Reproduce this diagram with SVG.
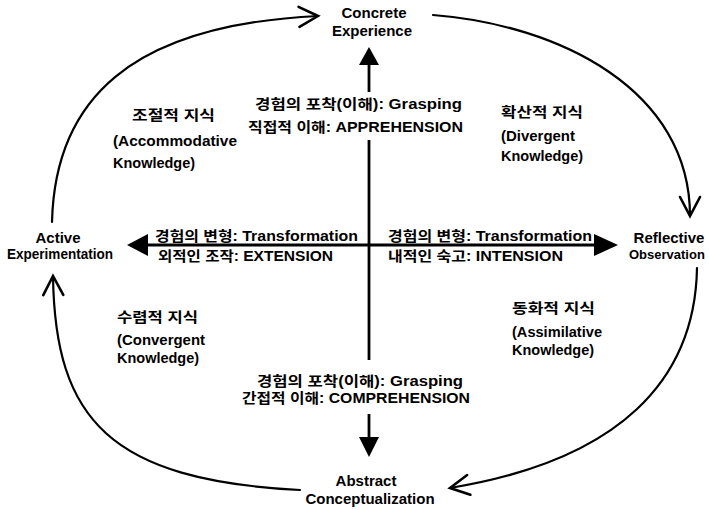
<svg xmlns="http://www.w3.org/2000/svg" width="709" height="510" viewBox="0 0 709 510">
  <style>
    text { font-family: "Liberation Sans", "Noto Sans CJK KR", sans-serif; font-size: 14px; font-weight: bold; fill: #000; }
    .stage { font-size: 15px; }
    .tight { font-size: 13px; }
    .kind { font-size: 15px; }
    .mid { text-anchor: middle; }
    .arc { fill: none; stroke: #000; stroke-width: 2.2; stroke-linecap: round; }
    .axis { fill: none; stroke: #000; stroke-width: 2.8; }
    .head { fill: #000; stroke: none; }
  </style>
  <defs>
    <marker id="openV" viewBox="0 0 24 24" refX="21" refY="12" markerWidth="24" markerHeight="24" markerUnits="userSpaceOnUse" orient="auto">
      <path d="M2,2 L21,12 L2,22" fill="none" stroke="#000" stroke-width="2.6" stroke-linecap="round" stroke-linejoin="miter"/>
    </marker>
  </defs>

  <rect width="709" height="510" fill="#fff"/>

  <!-- connectors: learning cycle arcs and the two axes -->
  <g id="connectors">
    <path class="arc" d="M52,222 C55,100 130,25 318,16" marker-end="url(#openV)"/>
    <path class="arc" d="M433,15 C560,25 690,90 690,216" marker-end="url(#openV)"/>
    <path class="arc" d="M697,268 C695,380 620,460 450,488" marker-end="url(#openV)"/>
    <path class="arc" d="M300,490 C110,480 55,420 53,276" marker-end="url(#openV)"/>

    <!-- vertical axis: grasping -->
    <line class="axis" x1="369" y1="64" x2="369" y2="92"/>
    <polygon class="head" points="369,47 359,65 379,65"/>
    <line class="axis" x1="369" y1="140" x2="369" y2="360"/>
    <line class="axis" x1="369" y1="414" x2="369" y2="439"/>
    <polygon class="head" points="369,457 359,437 379,437"/>

    <!-- horizontal axis: transformation -->
    <line class="axis" x1="146" y1="245" x2="596" y2="245"/>
    <polygon class="head" points="127,245 148,234 148,256"/>
    <polygon class="head" points="618,245 594,234 594,256"/>
  </g>

  <!-- cycle stages -->
  <g id="concrete-experience">
    <text class="stage mid" x="374" y="18">Concrete</text>
    <text class="stage mid" x="372" y="36">Experience</text>
  </g>
  <g id="reflective-observation">
    <text class="stage mid" x="669" y="243">Reflective</text>
    <text class="tight" x="629" y="259">Observation</text>
  </g>
  <g id="abstract-conceptualization">
    <text class="stage mid" x="366" y="486">Abstract</text>
    <text class="stage mid" x="370" y="504">Conceptualization</text>
  </g>
  <g id="active-experimentation">
    <text class="stage mid" x="58" y="243">Active</text>
    <text class="stage" x="7" y="259" textLength="106" lengthAdjust="spacingAndGlyphs">Experimentation</text>
  </g>

  <!-- axis labels -->
  <g id="grasping-apprehension">
    <text x="255" y="109" textLength="207" lengthAdjust="spacingAndGlyphs">경험의 포착(이해): Grasping</text>
    <text x="248" y="132" textLength="215" lengthAdjust="spacingAndGlyphs">직접적 이해: APPREHENSION</text>
  </g>
  <g id="grasping-comprehension">
    <text x="257" y="386" textLength="206" lengthAdjust="spacingAndGlyphs">경험의 포착(이해): Grasping</text>
    <text x="242" y="403" textLength="228" lengthAdjust="spacingAndGlyphs">간접적 이해: COMPREHENSION</text>
  </g>
  <g id="transformation-extension">
    <text x="155" y="241" textLength="203" lengthAdjust="spacingAndGlyphs">경험의 변형: Transformation</text>
    <text x="158" y="261" textLength="175" lengthAdjust="spacingAndGlyphs">외적인 조작: EXTENSION</text>
  </g>
  <g id="transformation-intension">
    <text x="388" y="241" textLength="204" lengthAdjust="spacingAndGlyphs">경험의 변형: Transformation</text>
    <text x="388" y="261" textLength="175" lengthAdjust="spacingAndGlyphs">내적인 숙고: INTENSION</text>
  </g>

  <!-- knowledge types -->
  <g id="accommodative-knowledge">
    <text x="132" y="120" textLength="83" lengthAdjust="spacingAndGlyphs">조절적 지식</text>
    <text class="kind" x="113" y="146" textLength="124" lengthAdjust="spacingAndGlyphs">(Accommodative</text>
    <text class="kind" x="113" y="168" textLength="82" lengthAdjust="spacingAndGlyphs">Knowledge)</text>
  </g>
  <g id="divergent-knowledge">
    <text x="501" y="117" textLength="82" lengthAdjust="spacingAndGlyphs">확산적 지식</text>
    <text class="kind" x="501" y="141" textLength="74" lengthAdjust="spacingAndGlyphs">(Divergent</text>
    <text class="kind" x="501" y="161" textLength="82" lengthAdjust="spacingAndGlyphs">Knowledge)</text>
  </g>
  <g id="convergent-knowledge">
    <text x="117" y="322" textLength="81" lengthAdjust="spacingAndGlyphs">수렴적 지식</text>
    <text class="kind" x="117" y="345" textLength="88" lengthAdjust="spacingAndGlyphs">(Convergent</text>
    <text class="kind" x="117" y="363" textLength="82" lengthAdjust="spacingAndGlyphs">Knowledge)</text>
  </g>
  <g id="assimilative-knowledge">
    <text x="512" y="313" textLength="83" lengthAdjust="spacingAndGlyphs">동화적 지식</text>
    <text class="kind" x="512" y="337" textLength="90" lengthAdjust="spacingAndGlyphs">(Assimilative</text>
    <text class="kind" x="512" y="355" textLength="82" lengthAdjust="spacingAndGlyphs">Knowledge)</text>
  </g>
</svg>
